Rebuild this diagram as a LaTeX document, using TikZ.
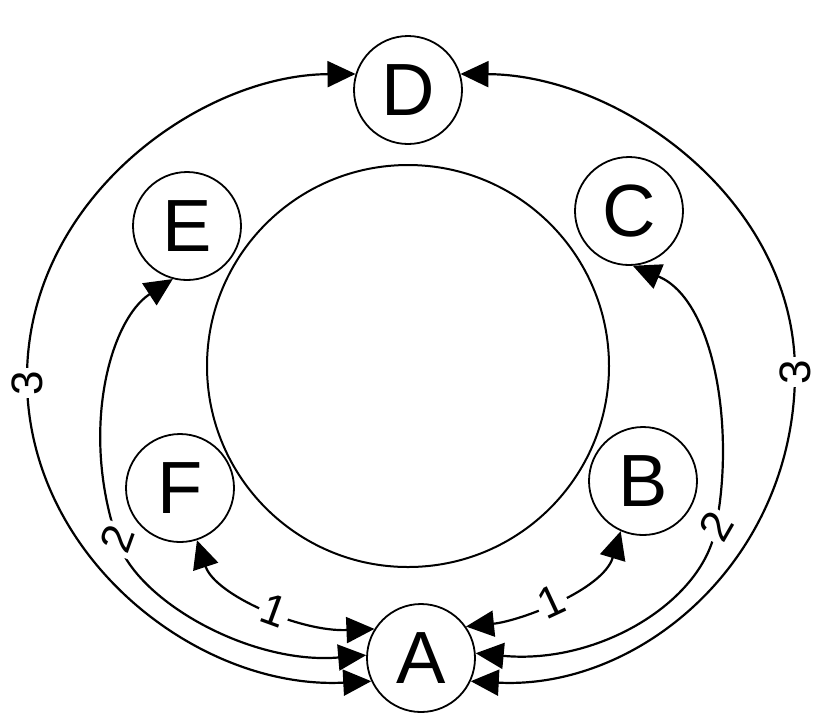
\documentclass[tikz,border=0pt]{standalone}
\usepackage{fontspec}
\setmainfont{Liberation Sans}
\usetikzlibrary{arrows.meta}
\begin{document}
\begin{tikzpicture}[x=0.5pt,y=-0.5pt,
  nd/.style={draw, circle, line width=0.9pt, minimum size=54pt, inner sep=0pt, fill=white, font=\fontsize{37}{37}\selectfont},
  conn/.style={line width=1.1pt, {Triangle[length=14pt,width=13pt]}-{Triangle[length=14pt,width=13pt]}},
  lbl/.style={fill=white, inner sep=1.5pt, font=\fontsize{22}{22}\selectfont}]
\useasboundingbox (0,0) rectangle (824,720);
\node[draw, circle, line width=1pt, minimum size=201pt, inner sep=0pt] (big) at (408,366) {};
\node[nd] (A) at (421,658) {A};
\node[nd] (B) at (643,481) {B};
\node[nd] (C) at (629,211) {C};
\node[nd] (D) at (408,90) {D};
\node[nd] (E) at (187,226) {E};
\node[nd] (F) at (180,488) {F};
% 1: F - A
\draw[conn] (F.-72) .. controls (215,595) and (300,632) .. (A.148)
  node[lbl, pos=0.55, rotate=-20] {1};
% 1: A - B
\draw[conn] (A.35) .. controls (520,621) and (603,590) .. (B.-114)
  node[lbl, pos=0.47, rotate=25] {1};
% 2: E - A
\draw[conn] (E.-105) .. controls (110,320) and (80,430) .. (117,539)
  node[lbl, rotate=70] {2}
  .. controls (135,600) and (250,665) .. (A.177);
% 2: C - A
\draw[conn] (C.-86) .. controls (715,300) and (735,430) .. (716,526)
  node[lbl, rotate=60] {2}
  .. controls (705,600) and (600,665) .. (A.5);
% 3: A - D left
\draw[conn] (A.205) .. controls (200,690) and (30,560) .. (27,383)
  node[lbl, rotate=90] {3}
  .. controls (24,200) and (200,75) .. (D.163);
% 3: A - D right
\draw[conn] (A.-25) .. controls (640,690) and (795,560) .. (795,372)
  node[lbl, rotate=90] {3}
  .. controls (795,200) and (620,75) .. (D.17);
\end{tikzpicture}
\end{document}
